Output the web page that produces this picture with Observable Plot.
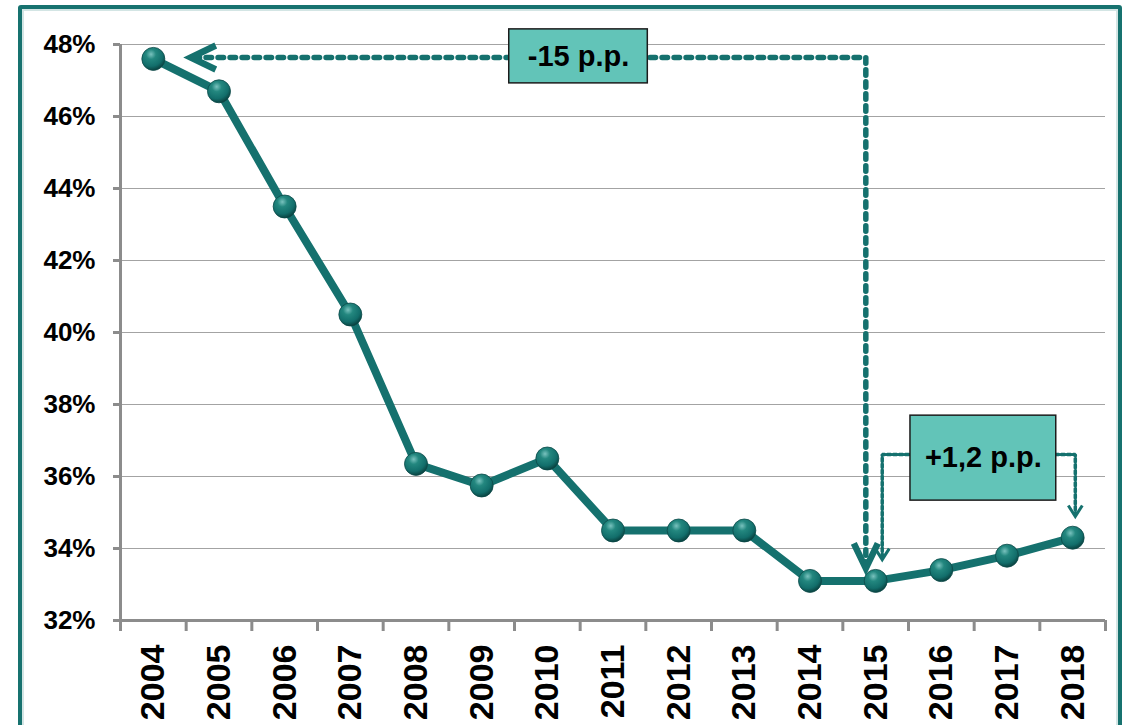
<!DOCTYPE html>
<html><head><meta charset="utf-8">
<script src="https://cdn.jsdelivr.net/npm/d3@7"></script>
<script src="https://cdn.jsdelivr.net/npm/@observablehq/plot@0.6"></script>
<style>
body{margin:0;background:#fff;font-family:"Liberation Sans",Arial,sans-serif;}
#wrap{position:relative;width:1124px;height:725px;overflow:hidden;}
#wrap svg{position:absolute;left:0;top:0;}
#frame{position:absolute;left:18px;top:5px;width:1096px;height:780px;border:4px solid #17726f;border-radius:3px;box-shadow:inset 0 0 0 2px #d3e5e4;pointer-events:none;z-index:2}
</style></head><body><div id="wrap"><div id="frame"></div></div>
<script>
// ---- data ----
const years = [2004, 2005, 2006, 2007, 2008, 2009, 2010, 2011, 2012, 2013, 2014, 2015, 2016, 2017, 2018];
const shares = [47.6, 46.7, 43.5, 40.5, 36.35, 35.75, 36.5, 34.5, 34.5, 34.5, 33.1, 33.1, 33.4, 33.8, 34.3];
const yTicks = [32, 34, 36, 38, 40, 42, 44, 46, 48];
const yearEdges = [2003.5, 2004.5, 2005.5, 2006.5, 2007.5, 2008.5, 2009.5, 2010.5, 2011.5, 2012.5, 2013.5, 2014.5, 2015.5, 2016.5, 2017.5, 2018.5];
const dropLabel = "-15 p.p.";
const riseLabel = "+1,2 p.p.";
// annotation anchors (data units)
const dropPath = [{x: 2004.62, y: 47.64}, {x: 2014.85, y: 47.64}, {x: 2014.85, y: 33.6}];
const risePath = [{x: 2015.1, y: 33.75}, {x: 2015.1, y: 36.61}, {x: 2018.04, y: 36.61}, {x: 2018.04, y: 34.95}];
const bigHeads = [{x: 2004.57, y: 47.64, rot: 90}, {x: 2014.85, y: 33.45, rot: 0}];
const smallHeads = [{x: 2015.1, y: 33.69, rot: 0}, {x: 2018.04, y: 34.89, rot: 0}];
const boxes = [
  {x1: 2009.42, x2: 2011.53, y1: 46.92, y2: 48.42, text: dropLabel},
  {x1: 2015.53, x2: 2017.75, y1: 35.33, y2: 37.69, text: riseLabel}
];

const table = years.map((year, i) => ({year, share: shares[i]}));
const teal = "#15716e";
const chevron = (w, h) => ({draw(ctx) { ctx.moveTo(-w, -h); ctx.lineTo(0, 0); ctx.lineTo(w, -h); }});

const chart = Plot.plot({
  width: 1124, height: 725,
  marginLeft: 120, marginRight: 19, marginTop: 44, marginBottom: 105,
  x: {domain: [2003.5, 2018.5], axis: null},
  y: {domain: [32, 48], axis: null},
  style: {fontFamily: "'Liberation Sans', Arial, sans-serif", background: "transparent", overflow: "visible", color: "#000"},
  marks: [
    Plot.ruleY(yTicks.slice(1), {stroke: "#a3a3a3", strokeWidth: 1.2}),
    Plot.axisY({ticks: yTicks, tickSize: 7, tickPadding: 18, tickFormat: d => d + "%", fontSize: 26, fontWeight: "bold", stroke: "#8c8c8c", strokeWidth: 3, fill: "#000"}),
    Plot.ruleX([2003.5], {y1: 32, y2: 48, stroke: "#8c8c8c", strokeWidth: 3}),
    Plot.ruleY([32], {stroke: "#8c8c8c", strokeWidth: 3}),
    Plot.axisX({ticks: yearEdges, tickSize: 11, tickFormat: () => "", stroke: "#8c8c8c", strokeWidth: 3}),
    Plot.text(years, {x: d => d, frameAnchor: "bottom", dy: 24, rotate: -90, textAnchor: "end", lineAnchor: "middle", text: d => String(d), fontSize: 34, fontWeight: "bold", fill: "#000"}),
    // annotations
    Plot.line(dropPath, {x: "x", y: "y", stroke: teal, strokeWidth: 5.5, strokeDasharray: "5.5 6.5", strokeLinejoin: "miter"}),
    Plot.line(risePath, {x: "x", y: "y", stroke: "#3b6f95", strokeWidth: 1}),
    Plot.line(risePath, {x: "x", y: "y", stroke: teal, strokeWidth: 3.5, strokeDasharray: "3.5 2.5", strokeLinejoin: "miter"}),
    Plot.rect(boxes, {x1: "x1", x2: "x2", y1: "y1", y2: "y2", fill: "#62c4b8", stroke: "#1c1c1c", strokeWidth: 1.5}),
    Plot.text(boxes, {x: d => (d.x1 + d.x2) / 2, y: d => (d.y1 + d.y2) / 2, text: "text", fontSize: 29, fontWeight: "bold", fill: "#000"}),
    // data
    Plot.line(table, {x: "year", y: "share", stroke: teal, strokeWidth: 8, strokeLinejoin: "round"}),
    Plot.dot(table, {x: "year", y: "share", r: 11.5, fill: "url(#ball)", stroke: "#0b4947", strokeWidth: 0.8}),
    Plot.dot(bigHeads, {x: "x", y: "y", rotate: "rot", symbol: chevron(12, 25), r: 10, fill: "none", stroke: teal, strokeWidth: 6.5, strokeLinejoin: "miter"}),
    Plot.dot(smallHeads, {x: "x", y: "y", rotate: "rot", symbol: chevron(7, 11), r: 6, fill: "none", stroke: teal, strokeWidth: 3, strokeLinejoin: "miter"})
  ]
});

const grad = d3.select(chart).insert("defs", ":first-child")
  .append("radialGradient").attr("id", "ball").attr("cx", "0.4").attr("cy", "0.3").attr("r", "0.72");
grad.append("stop").attr("offset", "0").attr("stop-color", "#79c2be");
grad.append("stop").attr("offset", "0.3").attr("stop-color", "#23877f");
grad.append("stop").attr("offset", "0.72").attr("stop-color", "#126e6b");
grad.append("stop").attr("offset", "1").attr("stop-color", "#093f3d");

document.getElementById("wrap").appendChild(chart);
</script>
</body></html>
